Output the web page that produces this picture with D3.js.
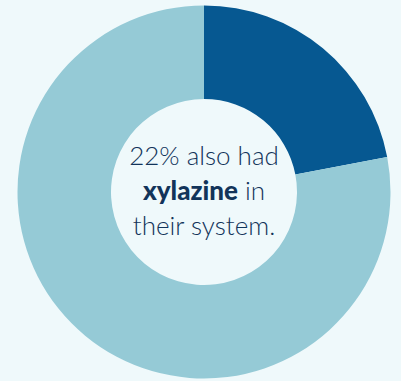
<!DOCTYPE html>
<html>
<head>
<meta charset="utf-8">
<script src="https://cdn.jsdelivr.net/npm/d3@7"></script>
<style>
  html, body { margin: 0; padding: 0; background: #eff9fb; }
  svg { display: block; }
</style>
</head>
<body>
<svg id="chart" width="401" height="381"></svg>
<script>
// Share of cases where xylazine was also detected
const categories = ["xylazine", "other"];
const values = [22, 78];
const colors = ["#065891", "#95cad6"];
const centerLines = [
  [{ t: "22% also had", bold: false }],
  [{ t: "xylazine", bold: true }, { t: " in", bold: false }],
  [{ t: "their system.", bold: false }]
];

const svg = d3.select("#chart");
const cx = 204, cy = 192;
const outerR = 186.5, innerR = 93;

const pie = d3.pie().sort(null).value(d => d.v);
const arc = d3.arc().innerRadius(innerR).outerRadius(outerR);

const data = categories.map((c, i) => ({ c, v: values[i], color: colors[i] }));

const g = svg.append("g").attr("transform", `translate(${cx},${cy})`);
g.selectAll("path")
  .data(pie(data))
  .join("path")
  .attr("d", arc)
  .attr("fill", d => d.data.color);

// Center caption
const text = g.append("text")
  .attr("text-anchor", "middle")
  .attr("font-family", "Lato, 'Open Sans', sans-serif")
  .attr("font-size", 26)
  .attr("fill", "#12345a");

const baselines = [-27, 8, 43];
centerLines.forEach((line, i) => {
  const t = text.append("tspan").attr("x", 0).attr("y", baselines[i]);
  line.forEach(part => {
    t.append("tspan")
      .attr("font-weight", part.bold ? 900 : 300)
      .text(part.t);
  });
});
</script>
</body>
</html>
